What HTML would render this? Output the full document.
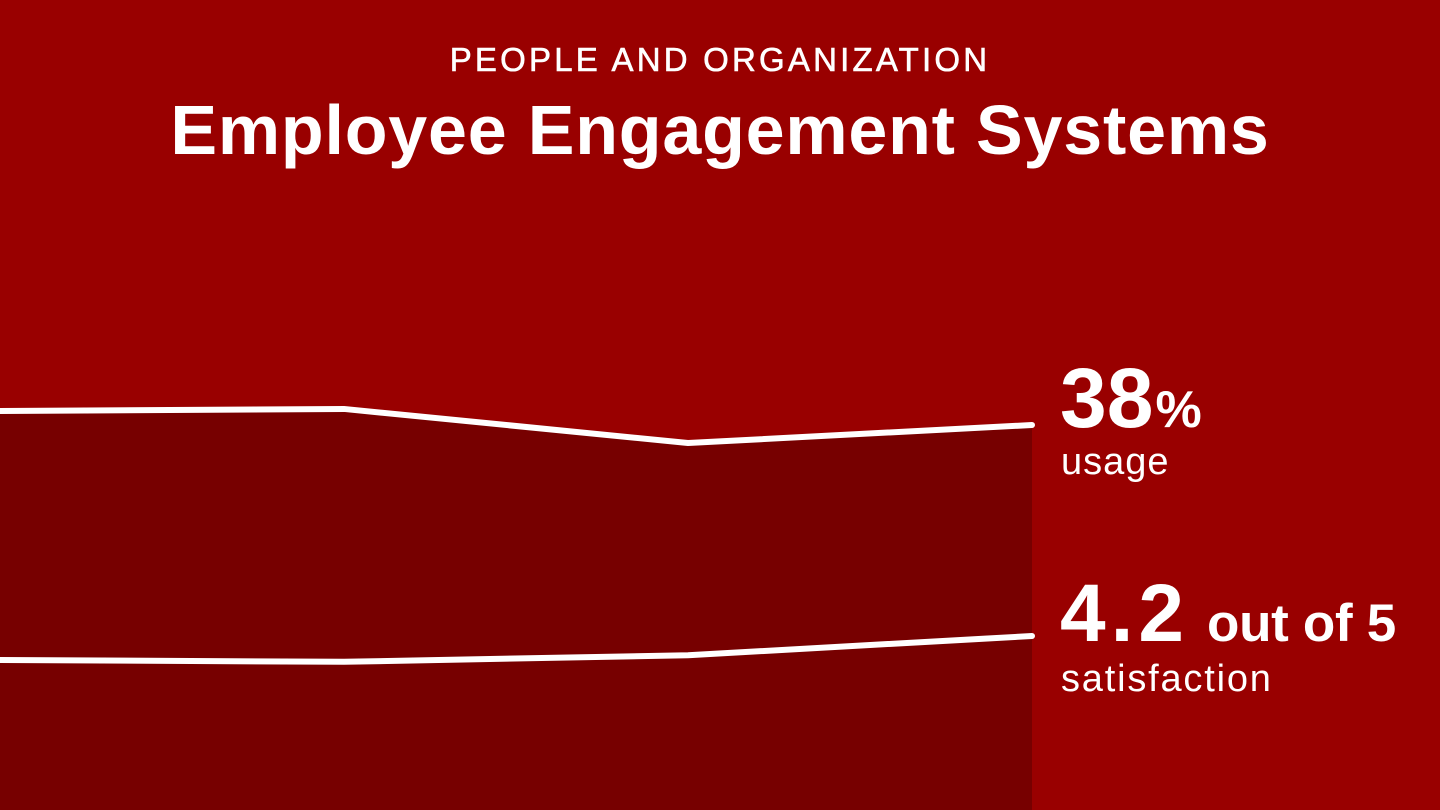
<!DOCTYPE html>
<html><head><meta charset="utf-8"><style>
html,body{margin:0;padding:0;}
body{width:1440px;height:810px;background:#990000;overflow:hidden;position:relative;font-family:"Liberation Sans",sans-serif;color:#fff;}
.t{position:absolute;white-space:nowrap;}
</style></head><body>
<div class="t" style="left:0;width:1440px;text-align:center;top:40px;font-size:33px;letter-spacing:3.2px;line-height:40px;-webkit-text-stroke:0.6px #fff;">PEOPLE AND ORGANIZATION</div>
<div class="t" style="left:0;width:1440px;text-align:center;top:90px;font-size:70px;font-weight:bold;line-height:80px;letter-spacing:0.8px;">Employee Engagement Systems</div>
<svg id="chart" width="1440" height="810" style="position:absolute;left:0;top:0"></svg>
<div class="t" style="left:1060px;top:350px;font-size:84px;font-weight:bold;line-height:96px;letter-spacing:0px;">38<span style="font-size:52px;letter-spacing:0;margin-left:2px">%</span></div>
<div class="t" style="left:1061px;top:440px;font-size:38px;line-height:44px;letter-spacing:1px;">usage</div>
<div class="t" style="left:1060px;top:566px;font-size:82px;font-weight:bold;line-height:96px;letter-spacing:5px;">4.2<span style="font-size:53px;letter-spacing:-0.3px;margin-left:18px">out of 5</span></div>
<div class="t" style="left:1061px;top:657px;font-size:38px;line-height:44px;letter-spacing:1.8px;">satisfaction</div>
<script>
const periods=["P1","P2","P3","P4"];
const usage=[38.93,39.07,36.8,38];
const satisfaction=[3.8,3.77,3.88,4.2];
const svg=document.getElementById('chart');
const NS="http://www.w3.org/2000/svg";
function x(i){return i*1032/(periods.length-1);}
function yU(v){return 425-(v-38)*15;}
function yS(v){return 636-(v-4.2)*60;}
const up=usage.map((v,i)=>[x(i),yU(v)]);
const area=document.createElementNS(NS,'path');
area.setAttribute('d','M'+up.map(p=>p.join(',')).join(' L')+' L1032,810 L0,810 Z');
area.setAttribute('fill','#770000');


svg.appendChild(area);
function line(pts,name){
  const p=document.createElementNS(NS,'polyline');
  p.setAttribute('points',pts.map(q=>q.join(',')).join(' '));
  p.setAttribute('fill','none');p.setAttribute('stroke','#fff');
  p.setAttribute('stroke-width','6');p.setAttribute('stroke-linecap','round');p.setAttribute('stroke-linejoin','round');
  
  
  svg.appendChild(p);
}
line(up,'usage-line');
line(satisfaction.map((v,i)=>[x(i),yS(v)]),'satisfaction-line');
</script>
</body></html>
